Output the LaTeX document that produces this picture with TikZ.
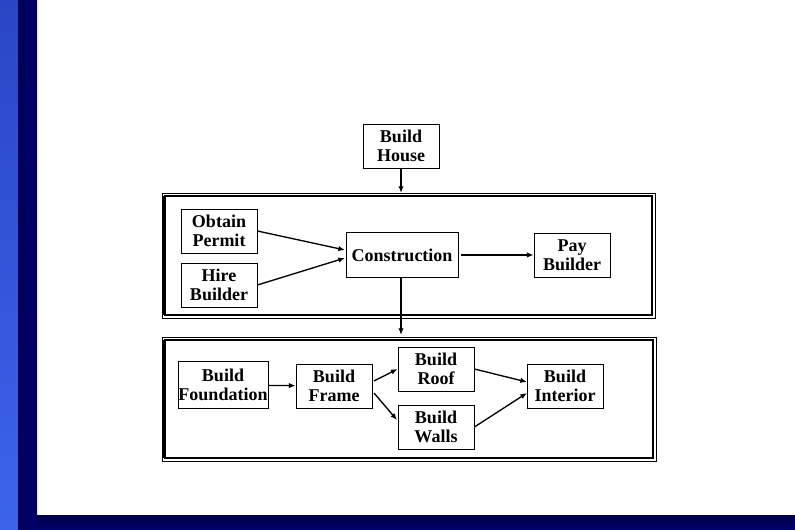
\documentclass[tikz,border=0pt]{standalone}
\usepackage{fontspec}
\setmainfont{Liberation Serif}
\usetikzlibrary{arrows.meta}
\definecolor{navy}{RGB}{0,0,110}
\definecolor{lightblue}{RGB}{60,100,235}
\begin{document}
\begin{tikzpicture}[x=0.75pt,y=-0.75pt,
  box/.style={draw, line width=0.6pt, align=center, inner sep=0pt,
    font=\fontsize{13.5}{14.2}\selectfont\bfseries, minimum height=44*0.75pt},
  arr/.style={-{Latex[length=5pt,width=4pt]}, line width=1pt},
  frame/.style={draw, line width=0.6pt}]
\useasboundingbox (0,0) rectangle (795,530);
\fill[white] (0,0) rectangle (795,530);
% decorative borders
\shade[top color=lightblue!70!navy, bottom color=lightblue] (0,0) rectangle (18,530);
\shade[left color=navy!80!black, right color=navy] (18,0) rectangle (37,530);
\shade[top color=navy!60!black, bottom color=navy] (37,515) rectangle (795,530);
% frames
\draw[frame] (162,193) rectangle (655,318);
\draw[line width=0.8pt] (165,196) rectangle (652,315);
\draw[line width=2pt] (164,196) -- (164,315);
\draw[frame] (162,337) rectangle (656,461);
\draw[line width=0.8pt] (165,340) rectangle (653,458);
\draw[line width=2pt] (164,340) -- (164,458);
% nodes
\node[box, minimum width=76*0.75pt] (house) at (401,146) {Build\\House};
\node[box, minimum width=76*0.75pt] (permit) at (219,231) {Obtain\\Permit};
\node[box, minimum width=76*0.75pt] (hire) at (219,285) {Hire\\Builder};
\node[box, minimum width=112*0.75pt, minimum height=45*0.75pt] (constr) at (402,255) {Construction};
\node[box, minimum width=76*0.75pt] (pay) at (572,255) {Pay\\Builder};
\node[box, minimum width=90*0.75pt, minimum height=47*0.75pt] (found) at (223,385) {Build\\Foundation};
\node[box, minimum width=76*0.75pt] (frm) at (334,386) {Build\\Frame};
\node[box, minimum width=76*0.75pt] (roof) at (436,369) {Build\\Roof};
\node[box, minimum width=76*0.75pt] (walls) at (436,427) {Build\\Walls};
\node[box, minimum width=76*0.75pt] (inter) at (565,386) {Build\\Interior};
% connector end points
\coordinate (f1top) at (401,193);
\coordinate (f2top) at (401,335);
\coordinate (cin1) at (345,250);
\coordinate (cin2) at (345,258);
\coordinate (cout) at (461,255);
\coordinate (frout1) at (374,381);
\coordinate (frout2) at (374,393);
\coordinate (wallin) at (397,420);
\coordinate (intin1) at (527,382);
\coordinate (intin2) at (527,393);
% connectors
\draw[arr] (house) -- (f1top);
\draw[arr] (constr.south -| f2top) -- (f2top);
\draw[arr] (permit.east) -- (cin1);
\draw[arr] (hire.east) -- (cin2);
\draw[arr] (cout) -- (pay.west);
\draw[arr] (found) -- (frm);
\draw[arr] (frout1) -- (roof.west);
\draw[arr] (frout2) -- (wallin);
\draw[arr] (roof.east) -- (intin1);
\draw[arr] (walls.east) -- (intin2);
\end{tikzpicture}
\end{document}
